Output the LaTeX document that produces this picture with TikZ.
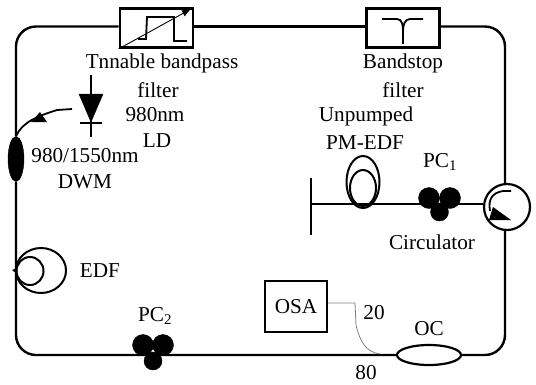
\documentclass[tikz,border=0pt]{standalone}
\usepackage{fontspec}
\setmainfont{Liberation Serif}
\usetikzlibrary{shapes.geometric,arrows.meta}
\begin{document}
\begin{tikzpicture}[
                x=1pt,
                y=-1pt,
                fiber/.style={draw,line width=2.4pt,rounded corners=20pt},
                txt/.style={inner sep=0pt,font=\fontsize{21.2}{24}\selectfont},
                filterbox/.style={draw,line width=2.8pt,inner sep=0pt,minimum width=73pt,minimum height=39pt},
                coil/.style={draw,ellipse,line width=2pt,inner sep=0pt},
                paddle/.style={draw,circle,fill=black,inner sep=0pt,minimum size=21pt}
            ]
            \useasboundingbox (0,0) rectangle (536,384);
            % loop components
            \node[filterbox] (bpf) at (156.5,28) {};
            \node[filterbox] (bsf) at (403,28) {};
            \node[draw,circle,line width=2.2pt,inner sep=0pt,minimum size=46pt] (circ) at (507,207) {};
            \node[draw,ellipse,line width=2.2pt,inner sep=0pt,minimum width=64pt,minimum height=20pt] (oc) at (429,355) {};
            \node[draw,ellipse,fill=black,inner sep=0pt,minimum width=16pt,minimum height=45pt] (wdm) at (16,159) {};
            \node[draw,line width=2.2pt,inner sep=0pt,minimum width=62pt,minimum height=51pt,
                txt] (osa) at (296,306.5) {OSA};
            % loop
            \draw[fiber] (bpf.west |- 0,26.5) -- (16,26.5) -- (wdm.north);
            \draw[fiber] (bpf.east |- 0,26.5) -- (bsf.west |- 0,26.5);
            \draw[fiber] (bsf.east |- 0,26.5) -- (505,26.5) -- (circ.north -| 505,0);
            \draw[fiber] (circ.south -| 505,0) -- (505,355) -- (oc.east);
            \draw[fiber] (wdm.south) -- (16,355) -- (oc.west);
            % filter curves
            \draw[line width=1.8pt] (138,39) -- (146,39) -- (147,17) -- (174,17) -- (174,41) -- (187,41);
            \draw[-{Latex[length=9pt,width=7pt]},line width=0.9pt] (bpf.south west) -- (191,9);
            \draw[line width=1.8pt] (382,19) -- (397,19) to[out=0,in=90] (403,31) -- (403,44);
            \draw[line width=1.8pt] (423,19) -- (410,19) to[out=180,in=90] (403,31);
            % pump diode
            \coordinate (ldtop) at (91,75);
            \coordinate (ldend) at (91,137);
            \coordinate (ldout) at (72,109);
            \draw[line width=1.8pt] (ldtop) -- (ldend);
            \draw[fill=black] (79,94) -- (103,94) -- (91,122) -- cycle;
            \draw[line width=1.8pt] (80,123) -- (102,123);
            \draw[line width=1.8pt] (ldout) -- (57,110) .. controls (38,116) and (22,122) .. (wdm.north);
            \fill (31,122) -- (40,112) -- (47,122) -- cycle;
            % EDF
            \node[coil,minimum width=50pt,minimum height=45pt] (edf) at (41,270.5) {};
            \node[coil,minimum width=27pt,minimum height=28pt] (edfin) at (30,271) {};
            \fill (12,270) -- (17,268) -- (17,274) -- cycle;
            % unpumped branch
            \coordinate (bartop) at (311,178);
            \coordinate (barbot) at (311,235);
            \draw[line width=2.2pt] (bartop) -- (barbot);
            \draw[line width=2.2pt] (311,204) -- (circ.west |- 0,204);
            \node[coil,minimum width=33pt,minimum height=52pt] (pmo) at (363,182) {};
            \node[coil,minimum width=26pt,minimum height=36pt] (pmi) at (363,188) {};
            % polarization controllers
            \node[paddle] (pca) at (429,198) {};
            \node[paddle] (pcb) at (450,198) {};
            \node[paddle,minimum size=18pt] (pcc) at (439.5,212) {};
            \node[paddle] (pcd) at (143,345) {};
            \node[paddle] (pce) at (163,345) {};
            \node[paddle,minimum size=18pt] (pcf) at (153,361) {};
            % circulator inside
            \draw[line width=1.8pt] (511,191) -- (503,191) .. controls (492,193) and (488,199) .. (490,211);
            \fill (493,207) -- (511,220) -- (489,220) -- cycle;
            % output to OSA
            \draw[gray,line width=0.8pt] (osa.east |- 0,303) -- (355,303) -- (356,325) .. controls (360,342) and (366,352) .. (380,354);
            % labels
            \node[txt] (bpflbl) at (162,63) {Tnnable bandpass};
            \node[txt] (bpflbl2) at (158,90) {filter};
            \node[txt] (ldlbl) at (155,115) {980nm};
            \node[txt] (ldlbl2) at (157,141) {LD};
            \node[txt] (wdmlbl) at (85,156) {980/1550nm};
            \node[txt] (wdmlbl2) at (85,182) {DWM};
            \node[txt] (bsflbl) at (403,63) {Bandstop};
            \node[txt] (bsflbl2) at (403,90) {filter};
            \node[txt] (pmlbl) at (366,116) {Unpumped};
            \node[txt] (pmlbl2) at (365,143) {PM-EDF};
            \node[txt] (pc1lbl) at (440,162) {PC\textsubscript{1}};
            \node[txt] (circlbl) at (432,242) {Circulator};
            \node[txt] (edflbl) at (100,271) {EDF};
            \node[txt] (pc2lbl) at (155,316) {PC\textsubscript{2}};
            \node[txt] (couta) at (374,313) {20};
            \node[txt] (oclbl) at (429,329) {OC};
            \node[txt] (coutb) at (366,373) {80};
        \end{tikzpicture}
\end{document}
